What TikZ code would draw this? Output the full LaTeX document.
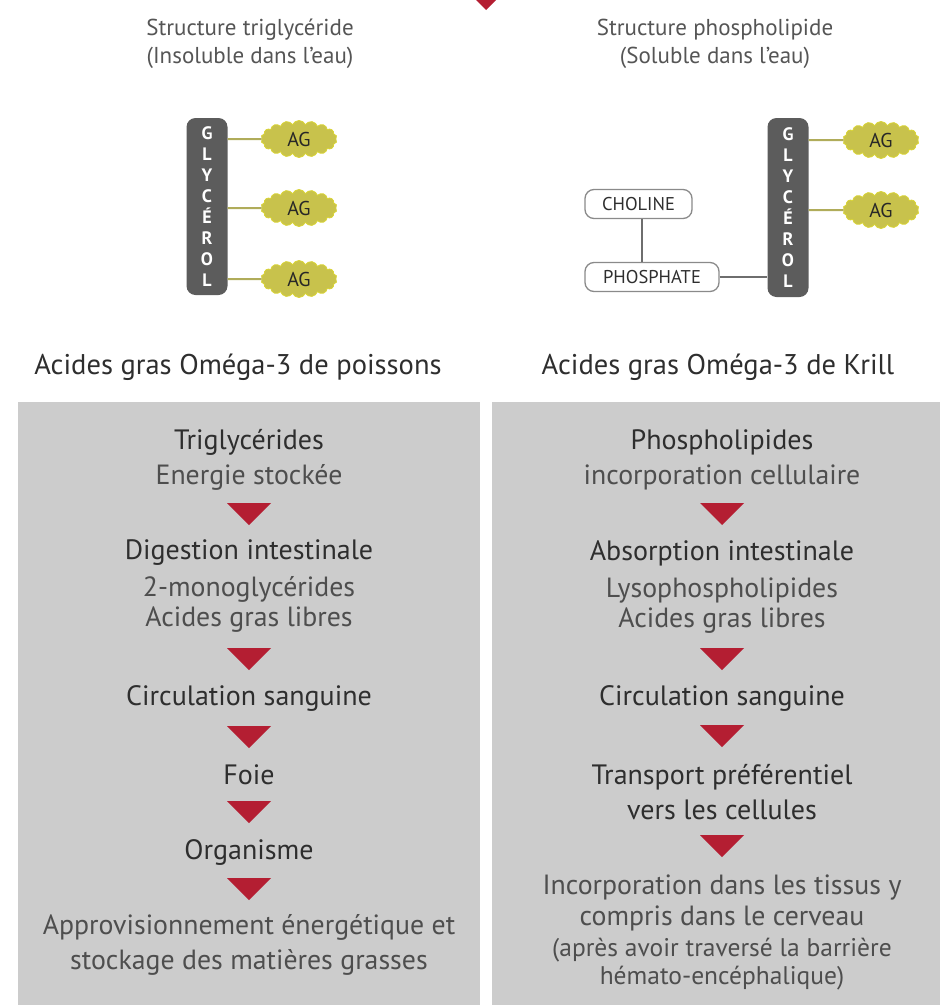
\documentclass[tikz,border=0pt]{standalone}
\usepackage{fontspec}
\setmainfont{PT Sans}
\usetikzlibrary{shapes.symbols}
\definecolor{panelgray}{HTML}{CCCCCC}
\definecolor{redc}{HTML}{B41E32}
\definecolor{darktext}{HTML}{2E2E2E}
\definecolor{subtext}{HTML}{4E4E4E}
\definecolor{titletext}{HTML}{555555}
\definecolor{glybar}{HTML}{5C5C5C}
\definecolor{agfill}{HTML}{C8C24C}
\definecolor{agline}{HTML}{B0AC5A}
\definecolor{boxline}{HTML}{8A8A8A}
\begin{document}
\begin{tikzpicture}[x=1pt,y=-1pt,
  title/.style={font=\fontsize{23}{28}\selectfont, text=titletext, align=center, inner sep=0pt},
  section/.style={font=\fontsize{28.5}{32}\selectfont, text=darktext, inner sep=0pt},
  head/.style={font=\fontsize{28}{32}\selectfont, text=darktext, inner sep=0pt},
  sub/.style={font=\fontsize{27.8}{32}\selectfont, text=subtext, inner sep=0pt},
  small/.style={font=\fontsize{25.5}{29}\selectfont, text=subtext, inner sep=0pt},
  panel/.style={fill=panelgray, draw=none},
  glycerol/.style={fill=glybar, draw=none, rounded corners=9pt, minimum width=41pt, inner sep=0pt, text=white, font=\fontsize{18}{21}\selectfont\bfseries, align=center},
  agcloud/.style={cloud, cloud puffs=18, cloud puff arc=130, aspect=2.2, fill=agfill, draw=agfill!70!yellow, line width=0.8pt, minimum width=76pt, minimum height=37pt, inner sep=0pt, font=\fontsize{20}{22}\selectfont, text=darktext!85!black},
  agbond/.style={draw=agline, line width=2pt},
  molbox/.style={draw=boxline, line width=1.3pt, fill=white, rounded corners=9pt, inner sep=0pt, minimum height=29pt, font=\fontsize{18.5}{20}\selectfont, text=darktext},
  molbond/.style={draw=boxline!80!black, line width=1.6pt},
  redtri/.pic={\fill[redc] (-22,-11) -- (22,-11) -- (0,11) -- cycle;}
]
\useasboundingbox (0,0) rectangle (940,1007);

% top arrow remnant
\fill[redc] (476,0) -- (496,0) -- (486,10) -- cycle;

% titles
\node[title] (tl1) at (250,30) {Structure triglycéride};
\node[title] (tl2) at (250,58) {(Insoluble dans l'eau)};
\node[title] (tr1) at (715,30) {Structure phospholipide};
\node[title] (tr2) at (715,58) {(Soluble dans l'eau)};

% left molecule
\node[glycerol, minimum height=177pt] (gl) at (207,206.5) {G\\L\\Y\\C\\É\\R\\O\\L};
\node[agcloud] (ag1) at (299,139) {AG};
\node[agcloud] (ag2) at (299,208) {AG};
\node[agcloud] (ag3) at (299,279) {AG};
\draw[agbond] (gl.east |- ag1) -- (ag1.west);
\draw[agbond] (gl.east |- ag2) -- (ag2.west);
\draw[agbond] (gl.east |- ag3) -- (ag3.west);

% right molecule
\node[glycerol, minimum height=179pt] (gr) at (788,207.5) {G\\L\\Y\\C\\É\\R\\O\\L};
\node[agcloud] (ag4) at (881,140) {AG};
\node[agcloud] (ag5) at (881,210) {AG};
\node[molbox, minimum width=107pt] (chol) at (638.5,204) {CHOLINE};
\node[molbox, minimum width=134pt] (phos) at (652,277) {PHOSPHATE};
\draw[agbond] (gr.east |- ag4) -- (ag4.west);
\draw[agbond] (gr.east |- ag5) -- (ag5.west);
\coordinate (cb) at (642,218);
\draw[molbond] (chol.south -| cb) -- (phos.north -| cb);
\draw[molbond] (phos.east) -- (gr.west |- phos.east);

% section labels
\node[section] (secl) at (238,367) {Acides gras Oméga-3 de poissons};
\node[section] (secr) at (718,367) {Acides gras Oméga-3 de Krill};

% panels
\fill[panel] (18,402) rectangle (480,1005);
\fill[panel] (492,402) rectangle (940,1005);

% left column
\node[head] (l1) at (249,442) {Triglycérides};
\node[sub]  (l2) at (249,477) {Energie stockée};
\pic (la1) at (249,514) {redtri};
\node[head] (l3) at (249,553) {Digestion intestinale};
\node[sub]  (l4) at (249,589) {2-monoglycérides};
\node[sub]  (l5) at (249,620) {Acides gras libres};
\pic (la2) at (249,659) {redtri};
\node[head] (l6) at (249,698) {Circulation sanguine};
\pic (la3) at (249,737) {redtri};
\node[head] (l7) at (249,775) {Foie};
\pic (la4) at (249,812) {redtri};
\node[head] (l8) at (249,852) {Organisme};
\pic (la5) at (249,889) {redtri};
\node[sub]  (l9) at (249,927) {Approvisionnement énergétique et};
\node[sub]  (l10) at (249,962) {stockage des matières grasses};

% right column
\node[head] (r1) at (722,442) {Phospholipides};
\node[sub]  (r2) at (722,477) {incorporation cellulaire};
\pic (ra1) at (722,514) {redtri};
\node[head] (r3) at (722,553) {Absorption intestinale};
\node[sub]  (r4) at (722,590) {Lysophospholipides};
\node[sub]  (r5) at (722,621) {Acides gras libres};
\pic (ra2) at (722,659) {redtri};
\node[head] (r6) at (722,698) {Circulation sanguine};
\pic (ra3) at (722,736) {redtri};
\node[head] (r7) at (722,777) {Transport préférentiel};
\node[head] (r8) at (722,810) {vers les cellules};
\pic (ra4) at (722,846) {redtri};
\node[sub]  (r9) at (722,887) {Incorporation dans les tissus y};
\node[sub]  (r10) at (722,918) {compris dans le cerveau};
\node[small] (r11) at (722,950) {(après avoir traversé la barrière};
\node[small] (r12) at (722,978) {hémato-encéphalique)};
\end{tikzpicture}
\end{document}
